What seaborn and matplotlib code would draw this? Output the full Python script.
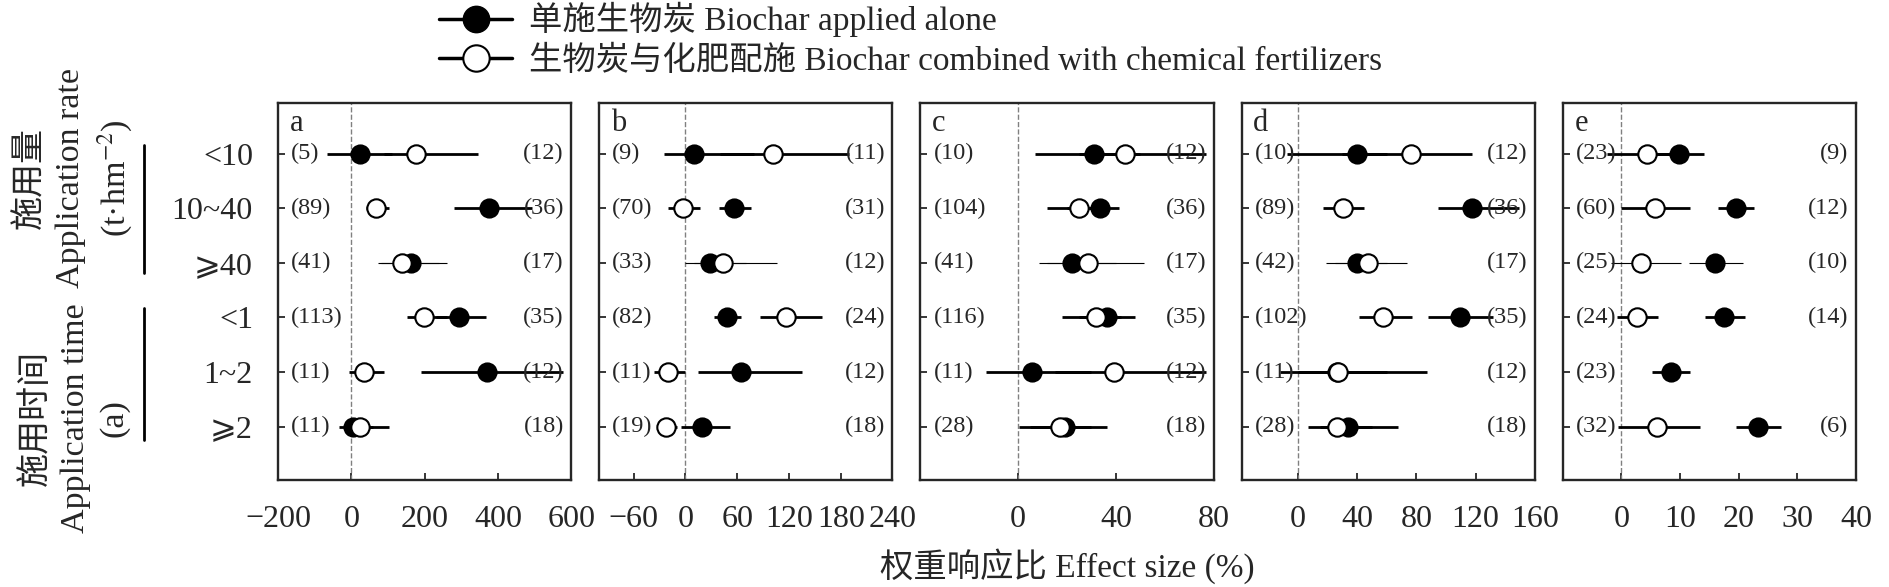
import numpy as np
import pandas as pd
import seaborn as sns
import matplotlib.pyplot as plt
from matplotlib.lines import Line2D
from matplotlib.transforms import blended_transform_factory

panels = ['a', 'b', 'c', 'd', 'e']
rows = ['<10', '10~40', '⩾40', '<1', '1~2', '⩾2']

# biochar applied alone (filled circles)
alone_mean = {'a': [24, 375, 163, 295, 370, 5],
              'b': [10, 56.6, 29, 48.2, 64.3, 19.5],
              'c': [31.2, 33.5, 22.1, 36.2, 5.7, 19.1],
              'd': [39.7, 117.5, 39.7, 109.3, 26.7, 34.1],
              'e': [9.9, 19.5, 15.9, 17.5, 8.5, 23.3]}
alone_lo = {'a': [-66, 280, 72, 230, 190, -34],
            'b': [-24.5, 39.4, 0, 32.9, 14.5, -5],
            'c': [7, 20, 8.4, 25, -13.2, 5],
            'd': [-7.4, 94.7, 19, 88, -11.9, 15],
            'e': [4, 16.5, 11.6, 14.2, 5.2, 19.5]}
alone_hi = {'a': [110, 492, 240, 366, 578, 60],
            'b': [80, 75.8, 70, 64.3, 135, 52],
            'c': [50, 41.3, 40, 47.8, 30, 36.4],
            'd': [60, 149.6, 60, 131.7, 60, 67.8],
            'e': [14.1, 22.6, 20.7, 21, 11.7, 27.2]}

# biochar combined with chemical fertilizers (open circles)
comb_mean = {'a': [176, 68, 138, 199, 34, 25],
             'b': [101, -3.4, 43, 117, -20, -23],
             'c': [43.6, 24.8, 28.6, 31.9, 39.3, 17.1],
             'd': [76.3, 30.3, 47.1, 57.7, 27.4, 26.7],
             'e': [4.4, 5.75, 3.3, 2.65, np.nan, 6.1]}
comb_lo = {'a': [90, 39, 80, 151, -5, -10],
           'b': [40, -20.7, 10, 86, -36, -33],
           'c': [25, 11.7, 12, 18, 15, 0.5],
           'd': [30, 16.8, 25, 41.5, 0, 6.7],
           'e': [-2.5, 0, -1.7, -0.8, np.nan, -0.6]}
comb_hi = {'a': [346, 104, 260, 260, 88, 104],
           'b': [190, 16.5, 105.6, 158, 0, -10],
           'c': [77, 35, 51.7, 42, 77, 30],
           'd': [117.8, 44.9, 74, 77.4, 87.5, 50],
           'e': [9, 11.7, 10.2, 6.3, np.nan, 13.4]}

n_left = {'a': [5, 89, 41, 113, 11, 11],
          'b': [9, 70, 33, 82, 11, 19],
          'c': [10, 104, 41, 116, 11, 28],
          'd': [10, 89, 42, 102, 11, 28],
          'e': [23, 60, 25, 24, 23, 32]}
n_right = {'a': [12, 36, 17, 35, 12, 18],
           'b': [11, 31, 12, 24, 12, 18],
           'c': [12, 36, 17, 35, 12, 18],
           'd': [12, 36, 17, 35, 12, 18],
           'e': [9, 12, 10, 14, None, 6]}

xlims = {'a': (-200, 600), 'b': (-100, 240), 'c': (-40, 80), 'd': (-38, 160), 'e': (-10, 40)}
xticks = {'a': [-200, 0, 200, 400, 600], 'b': [-60, 0, 60, 120, 180, 240],
          'c': [0, 40, 80], 'd': [0, 40, 80, 120, 160], 'e': [0, 10, 20, 30, 40]}

recs = []
for p in panels:
    for i in range(len(rows)):
        recs.append(dict(panel=p, row=i, series='alone', mean=alone_mean[p][i],
                         lo=alone_lo[p][i], hi=alone_hi[p][i]))
        recs.append(dict(panel=p, row=i, series='comb', mean=comb_mean[p][i],
                         lo=comb_lo[p][i], hi=comb_hi[p][i]))
df = pd.DataFrame(recs).dropna()

sns.set_style('ticks')
plt.rcParams['font.family'] = ['Liberation Serif', 'DejaVu Sans', 'Noto Sans CJK SC']
plt.rcParams['mathtext.fontset'] = 'stix'

W, H = 1890, 587
fig, axes = plt.subplots(1, 5, figsize=(W / 100, H / 100), dpi=100)
fig.subplots_adjust(left=278 / W, right=1856 / W, top=1 - 103 / H, bottom=1 - 480 / H, wspace=0.095)

for k, (ax, p) in enumerate(zip(axes, panels)):
    d = df[df.panel == p]
    ax.axvline(0, color='#808080', ls='--', lw=1, zorder=1)
    for _, r in d.iterrows():
        ax.hlines(r['row'], r['lo'], r['hi'], color='black',
                  lw=0.8 if r['row'] == 2 else 2.0, zorder=2)
    sns.scatterplot(data=d[d.series == 'alone'], x='mean', y='row', color='black',
                    edgecolor='black', s=175, linewidth=1.3, ax=ax, zorder=3, legend=False)
    sns.scatterplot(data=d[d.series == 'comb'], x='mean', y='row', color='white',
                    edgecolor='black', s=175, linewidth=1.5, ax=ax, zorder=4, legend=False)

    tr = blended_transform_factory(ax.transAxes, ax.transData)
    for i, n in enumerate(n_left[p]):
        ax.text(0.045, i, f'({n})', transform=tr, ha='left', va='center', fontsize=17.5)
    for i, n in enumerate(n_right[p]):
        if n is not None:
            ax.text(0.975, i, f'({n})', transform=tr, ha='right', va='center', fontsize=17.5)
    ax.text(0.04, 0.945, p, transform=ax.transAxes, ha='left', va='center', fontsize=22)

    ax.set_xlim(*xlims[p])
    ax.set_xticks(xticks[p])
    ax.set_ylim(5.98, -0.93)
    ax.set_yticks(range(len(rows)))
    ax.set_yticklabels(rows if k == 0 else [])
    ax.set_xlabel('')
    ax.set_ylabel('')
    ax.tick_params(axis='both', direction='in', length=5, width=1.3, labelsize=23)
    ax.tick_params(axis='x', pad=18)
    ax.tick_params(axis='y', pad=18)
    for s in ax.spines.values():
        s.set_linewidth(1.7)

# grouping labels on the left
fig.text(75 / W, 1 - 178 / H, '施用量\nApplication rate\n(t·hm$^{-2}$)', rotation=90,
         ha='center', va='center', multialignment='center', fontsize=24.5, linespacing=1.35)
fig.text(75 / W, 1 - 418 / H, '施用时间\nApplication time\n(a)', rotation=90,
         ha='center', va='center', multialignment='center', fontsize=24.5, linespacing=1.35)
fig.add_artist(Line2D([144 / W, 144 / W], [1 - 145 / H, 1 - 273 / H], color='black', lw=2))
fig.add_artist(Line2D([144 / W, 144 / W], [1 - 308 / H, 1 - 440 / H], color='black', lw=2))

fig.text(1067 / W, 1 - 566 / H, '权重响应比 Effect size (%)', ha='center', va='center', fontsize=24)

handles = [Line2D([0], [0], color='black', lw=2.5, marker='o', markersize=19,
                  markerfacecolor='black', markeredgecolor='black'),
           Line2D([0], [0], color='black', lw=2.5, marker='o', markersize=19,
                  markerfacecolor='white', markeredgecolor='black', markeredgewidth=1.5)]
labels = ['单施生物炭 Biochar applied alone',
          '生物炭与化肥配施 Biochar combined with chemical fertilizers']
fig.legend(handles, labels, loc='upper left', bbox_to_anchor=(439 / W, 1 - 2 / H),
           frameon=False, fontsize=24, handlelength=2.2, handletextpad=0.5,
           labelspacing=0.25, borderpad=0, borderaxespad=0)

fig.savefig('out.png', dpi=100)
